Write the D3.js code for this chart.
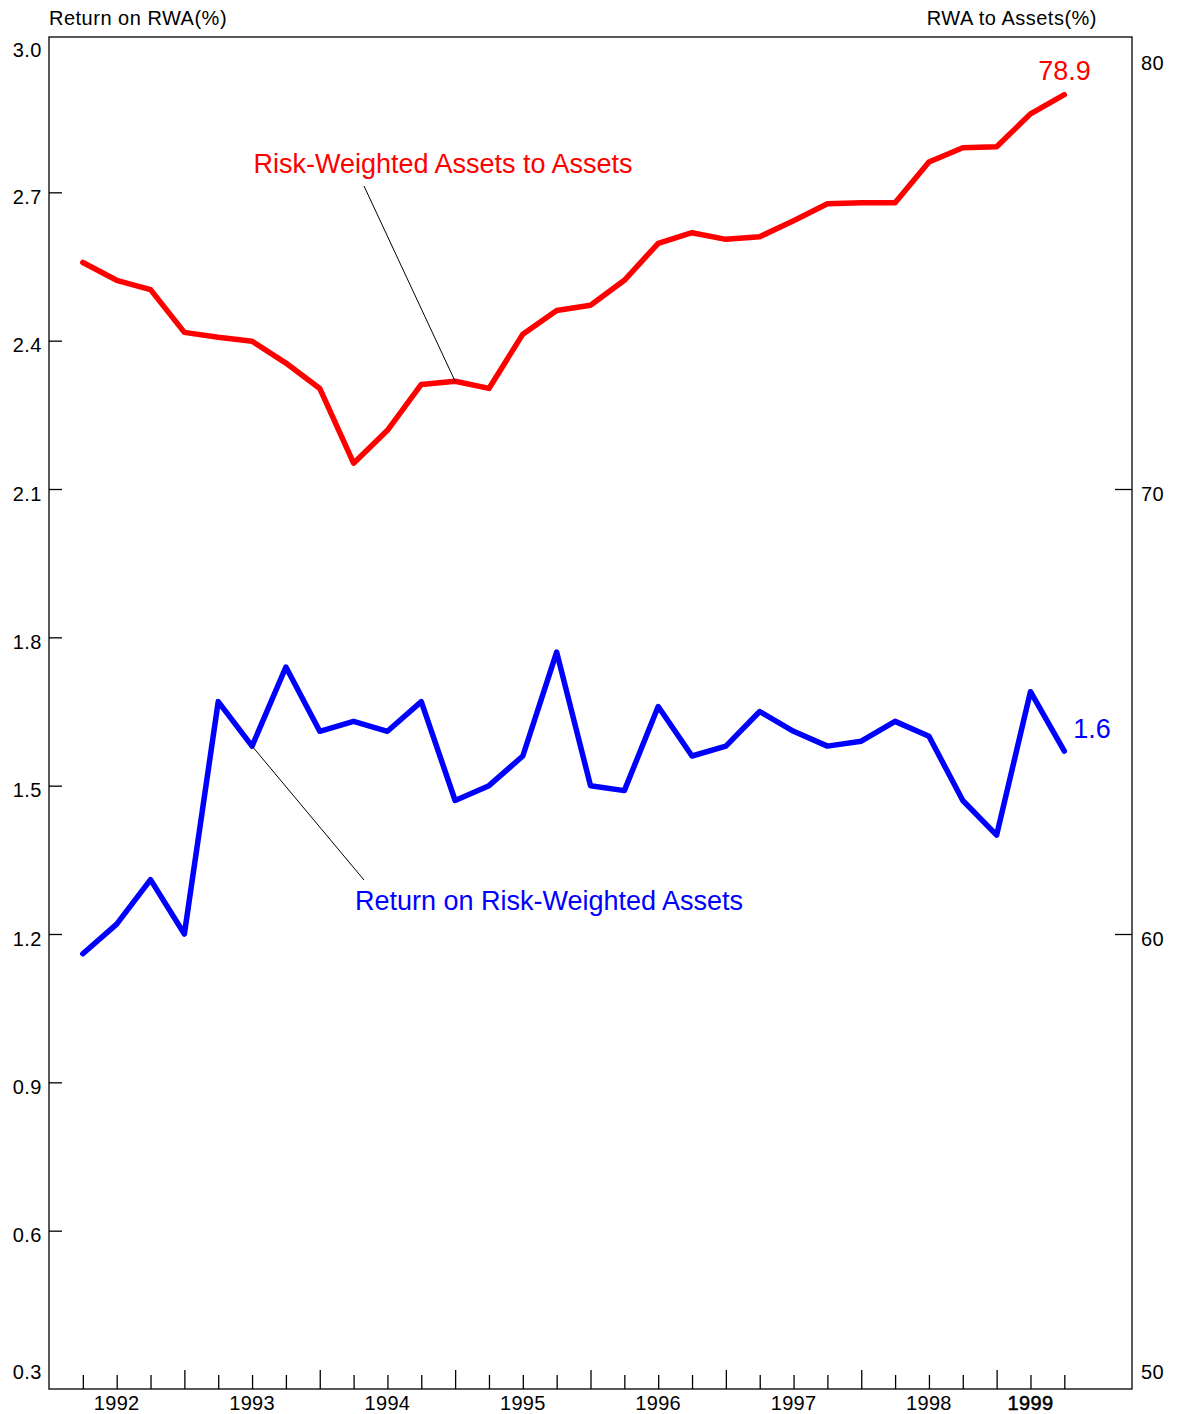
<!DOCTYPE html>
<meta charset="utf-8">
<script src="https://cdn.jsdelivr.net/npm/d3@7"></script>
<style>
  body { margin: 0; background: #fff; }
  text { font-family: "Liberation Sans", Arial, sans-serif; }
</style>
<body>
<div id="chart"></div>
<script>

// quarterly observations, 1991Q4 .. 1999Q1
var quarters = ["1991Q4",
  "1992Q1","1992Q2","1992Q3","1992Q4",
  "1993Q1","1993Q2","1993Q3","1993Q4",
  "1994Q1","1994Q2","1994Q3","1994Q4",
  "1995Q1","1995Q2","1995Q3","1995Q4",
  "1996Q1","1996Q2","1996Q3","1996Q4",
  "1997Q1","1997Q2","1997Q3","1997Q4",
  "1998Q1","1998Q2","1998Q3","1998Q4",
  "1999Q1"];

// Return on risk-weighted assets (%), left axis
var returnOnRWA = [1.16, 1.22, 1.31, 1.20, 1.67, 1.58, 1.74, 1.61, 1.63, 1.61,
  1.67, 1.47, 1.50, 1.56, 1.77, 1.50, 1.49, 1.66, 1.56, 1.58,
  1.65, 1.61, 1.58, 1.59, 1.63, 1.60, 1.47, 1.40, 1.69, 1.57];

// Risk-weighted assets to assets (%), right axis
var rwaToAssets = [75.09, 74.69, 74.48, 73.52, 73.41, 73.32, 72.83, 72.26, 70.58, 71.32,
  72.35, 72.42, 72.26, 73.48, 74.01, 74.13, 74.69, 75.52, 75.76, 75.61,
  75.67, 76.03, 76.41, 76.43, 76.43, 77.35, 77.67, 77.69, 78.43, 78.86];

var leftTicks = [3.0, 2.7, 2.4, 2.1, 1.8, 1.5, 1.2, 0.9, 0.6, 0.3];
var rightTicks = [80, 70, 60, 50];
var yearLabels = ["1992","1993","1994","1995","1996","1997","1998","1999"];
var yearLabelAt = ["1992Q1","1993Q1","1994Q1","1995Q1","1996Q1","1997Q1","1998Q1","1998Q4"];

var W = 1177, H = 1414;
var box = {left: 49, top: 37, right: 1132, bottom: 1389};

var svg = d3.select("#chart").append("svg")
  .attr("width", W).attr("height", H);

var x = d3.scaleLinear().domain([-1, quarters.length + 1]).range([box.left, box.right]);
var yL = d3.scaleLinear().domain([0.3, 3.0]).range([1379, 44]);
var yR = d3.scaleLinear().domain([50, 80]).range([1379, 44]);

// plot frame
svg.append("rect")
  .attr("x", box.left).attr("y", box.top)
  .attr("width", box.right - box.left).attr("height", box.bottom - box.top)
  .attr("fill", "none").attr("stroke", "#000").attr("stroke-width", 1.3);

// left axis
var gl = svg.append("g").attr("transform", "translate(" + box.left + ",0)")
  .call(d3.axisLeft(yL).tickValues(leftTicks).tickSize(-13).tickPadding(7).tickFormat(d3.format(".1f")));
gl.select(".domain").remove();
gl.selectAll("line").attr("stroke-width", 1.3)
  .attr("display", function(d) { return (d == 3.0 || d == 0.3) ? "none" : null; });
gl.selectAll("text")
  .attr("dy", null)
  .attr("y", function(d) { return Math.min(Math.max(yL(d) + 11, 56), 1378) - yL(d); })
  .style("font-size", "20px").style("letter-spacing", "0.5px").attr("fill", "#000");

// right axis
var gr = svg.append("g").attr("transform", "translate(" + box.right + ",0)")
  .call(d3.axisRight(yR).tickValues(rightTicks).tickSize(-17).tickPadding(9));
gr.select(".domain").remove();
gr.selectAll("line").attr("stroke-width", 1.3)
  .attr("display", function(d) { return (d == 80 || d == 50) ? "none" : null; });
gr.selectAll("text")
  .attr("dy", null)
  .attr("y", function(d) { return Math.min(Math.max(yR(d) + 11, 69), 1378) - yR(d); })
  .style("font-size", "20px").style("letter-spacing", "0.5px").attr("fill", "#000");

// bottom axis: a tick per quarter, longer on every fourth
var gb = svg.append("g").attr("transform", "translate(0," + box.bottom + ")")
  .call(d3.axisBottom(x).tickValues(d3.range(quarters.length)).tickSize(-14).tickFormat(""));
gb.select(".domain").remove();
gb.selectAll("line").attr("stroke-width", 1.3)
  .attr("y2", function(d) { return d % 4 == 3 ? -19 : -14; });

svg.selectAll(".year")
  .data(yearLabels)
  .enter().append("text")
  .attr("class", "year")
  .attr("x", function(d, i) { return x(quarters.indexOf(yearLabelAt[i])); })
  .attr("y", 1410)
  .attr("text-anchor", "middle")
  .style("font-size", "20px")
  .style("letter-spacing", "0.3px")
  .attr("stroke", function(d) { return d == "1999" ? "#000" : null; })
  .attr("stroke-width", 0.5)
  .text(function(d) { return d; });

// axis titles
svg.append("text").attr("x", 49).attr("y", 25)
  .style("font-size", "20px").style("letter-spacing", "0.5px").text("Return on RWA(%)");
svg.append("text").attr("x", 1097).attr("y", 25).attr("text-anchor", "end")
  .style("font-size", "20px").style("letter-spacing", "0.5px").text("RWA to Assets(%)");

// series
var lineR = d3.line().x(function(d, i) { return x(i); }).y(function(d) { return yR(d); });
var lineL = d3.line().x(function(d, i) { return x(i); }).y(function(d) { return yL(d); });

svg.append("path").datum(rwaToAssets)
  .attr("d", lineR).attr("fill", "none").attr("stroke", "#ff0000")
  .attr("stroke-width", 5.5).attr("stroke-linejoin", "round").attr("stroke-linecap", "round");

svg.append("path").datum(returnOnRWA)
  .attr("d", lineL).attr("fill", "none").attr("stroke", "#0000ff")
  .attr("stroke-width", 5.5).attr("stroke-linejoin", "round").attr("stroke-linecap", "round");

// leader lines and labels
var last = quarters.length - 1;
svg.append("line")
  .attr("x1", 364).attr("y1", 186)
  .attr("x2", x(11)).attr("y2", yR(rwaToAssets[11]))
  .attr("stroke", "#000").attr("stroke-width", 1);
svg.append("text").attr("x", 443).attr("y", 173).attr("text-anchor", "middle")
  .style("font-size", "27px").attr("fill", "#ff0000").text("Risk-Weighted Assets to Assets");

svg.append("line")
  .attr("x1", x(5)).attr("y1", yL(returnOnRWA[5]))
  .attr("x2", 364).attr("y2", 880)
  .attr("stroke", "#000").attr("stroke-width", 1);
svg.append("text").attr("x", 549).attr("y", 910).attr("text-anchor", "middle")
  .style("font-size", "27px").attr("fill", "#0000ff").text("Return on Risk-Weighted Assets");

svg.append("text").attr("x", x(last) - 26).attr("y", 80)
  .style("font-size", "27px").attr("fill", "#ff0000")
  .text(d3.format(".1f")(rwaToAssets[last]));
svg.append("text").attr("x", x(last) + 9).attr("y", yL(returnOnRWA[last]) - 13)
  .style("font-size", "27px").attr("fill", "#0000ff")
  .text(d3.format(".1f")(returnOnRWA[last]));

</script>
</body>
